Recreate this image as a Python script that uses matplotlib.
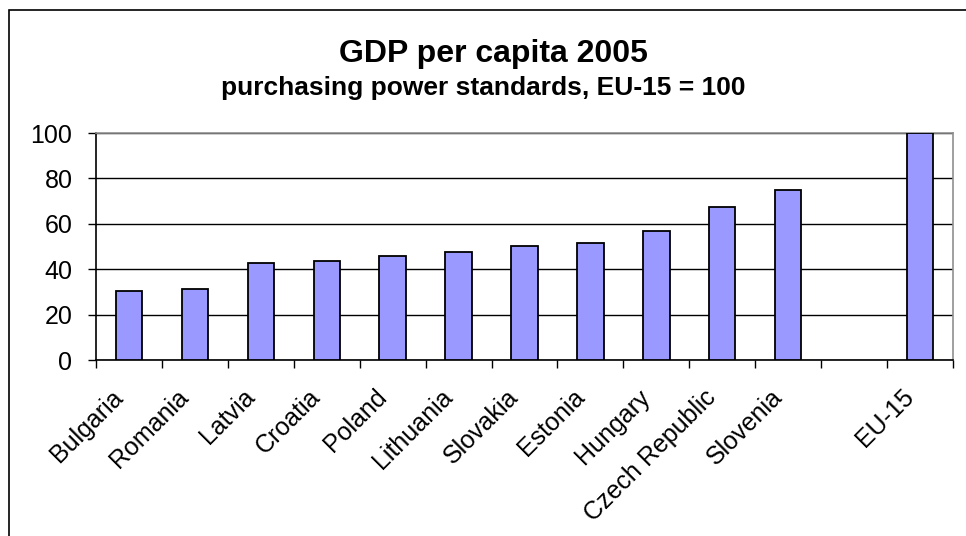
import matplotlib
matplotlib.use("Agg")
import matplotlib.pyplot as plt
from matplotlib.patches import Rectangle
import numpy as np

plt.rcParams['font.family'] = ['Liberation Sans', 'DejaVu Sans']

countries = ["Bulgaria", "Romania", "Latvia", "Croatia", "Poland", "Lithuania",
             "Slovakia", "Estonia", "Hungary", "Czech Republic", "Slovenia", "", "EU-15"]
gdp_pps = [30.5, 31.4, 42.9, 43.7, 45.7, 47.4, 50.1, 51.7, 57.0, 67.5, 74.9, np.nan, 100.0]
y_ticks = [0, 20, 40, 60, 80, 100]

fig = plt.figure(figsize=(9.66, 5.36), dpi=100)
W, H = 966, 536

# outer chart frame
fig.patches.append(Rectangle((9 / W, -0.1), 1.2, (H - 10) / H + 0.1,
                             transform=fig.transFigure, fill=False,
                             edgecolor='black', linewidth=1.2))

ax = fig.add_axes([96 / W, 1 - 360 / H, (953 - 96) / W, (360 - 133) / H])
x = np.arange(len(countries))
ax.bar(x, gdp_pps, width=0.4, color='#9999ff', edgecolor='black', linewidth=1.3, zorder=3)

ax.set_xlim(-0.5, len(countries) - 0.5)
ax.set_ylim(0, 100)
ax.set_yticks(y_ticks)
ax.set_yticklabels([str(v) for v in y_ticks], fontsize=18)
ax.yaxis.grid(True, color='black', linewidth=1.0, zorder=0)
ax.set_axisbelow(True)

ax.set_xticks(np.arange(len(countries) + 1) - 0.5)
ax.set_xticklabels([])
ax.tick_params(axis='x', direction='out', length=6, width=1, color='black')
ax.tick_params(axis='y', direction='out', length=6, width=1, color='black', pad=11)

for i, name in enumerate(countries):
    if name:
        ax.text(i - 0.28, -0.11, name, transform=ax.get_xaxis_transform(),
                rotation=45, rotation_mode='anchor', ha='right', va='top', fontsize=18)

for side in ('top', 'right'):
    ax.spines[side].set_color('#909090')
    ax.spines[side].set_linewidth(1.2)
for side in ('left', 'bottom'):
    ax.spines[side].set_color('black')
    ax.spines[side].set_linewidth(1.2)

fig.text(493 / W, 1 - 62 / H, "GDP per capita 2005", ha='center', va='baseline',
         fontsize=23, fontweight='bold')
fig.text(483 / W, 1 - 95 / H, "purchasing power standards, EU-15 = 100", ha='center',
         va='baseline', fontsize=19, fontweight='bold')

fig.savefig("out.png", dpi=100)
